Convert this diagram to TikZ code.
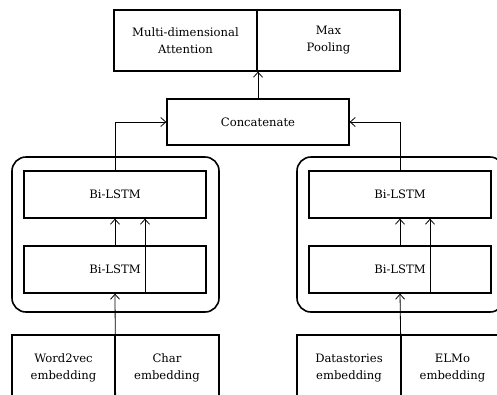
\documentclass[tikz,border=0pt]{standalone}
\usepackage{fontspec}
\setmainfont{DejaVu Serif}
\usetikzlibrary{arrows.meta}

\tikzset{
  blk/.style={draw, line width=1.3pt, rectangle, inner sep=0pt, align=center,
    font=\fontsize{11.6}{17}\selectfont},
  grp/.style={draw, line width=1.6pt, rectangle, rounded corners=14pt, inner sep=0pt},
  flow/.style={line width=0.8pt, -{Straight Barb[length=5pt,width=9pt]}}
}

\begin{document}
\begin{tikzpicture}[x=1pt,y=-1pt]
\clip[use as bounding box] (0,0) rectangle (497,394);

% output layer
\node[blk, minimum width=143, minimum height=61] (att) at (185.5,40.5) {Multi-dimensional\\Attention};
\node[blk, minimum width=143, minimum height=61] (pool) at (328.5,40.5) {Max\\Pooling};
\node[blk, minimum width=182, minimum height=46] (cat) at (258,122) {Concatenate};

% left branch
\node[grp, minimum width=207, minimum height=155] (grpL) at (115.5,234.5) {};
\node[blk, minimum width=182, minimum height=47] (upL) at (115,194.5) {Bi-LSTM};
\node[blk, minimum width=182, minimum height=47] (loL) at (115,269.5) {Bi-LSTM};
\node[blk, minimum width=103, minimum height=66] (word) at (63.5,368) {Word2vec\\embedding};
\node[blk, minimum width=104, minimum height=66] (char) at (167,368) {Char\\embedding};

% right branch
\node[grp, minimum width=207, minimum height=155] (grpR) at (400.5,234.5) {};
\node[blk, minimum width=182, minimum height=47] (upR) at (400,194.5) {Bi-LSTM};
\node[blk, minimum width=182, minimum height=47] (loR) at (400,269.5) {Bi-LSTM};
\node[blk, minimum width=104, minimum height=66] (ds) at (349,368) {Datastories\\embedding};
\node[blk, minimum width=103, minimum height=66] (elmo) at (452.5,368) {ELMo\\embedding};

% arrows
\draw[flow] (cat.north) -- (cat.north |- att.south);
\draw[flow] (upL.north) |- (cat.west);
\draw[flow] (upR.north) |- (cat.east);

\foreach \s in {L,R} {
  \draw[flow] (lo\s.north) -- (up\s.south);
  \draw[flow] ([xshift=30pt]lo\s.south) -- ([xshift=30pt]up\s.south);
}
\draw[flow] (word.south east) -- (loL.south);
\draw[flow] (ds.south east) -- (loR.south);
\end{tikzpicture}
\end{document}
